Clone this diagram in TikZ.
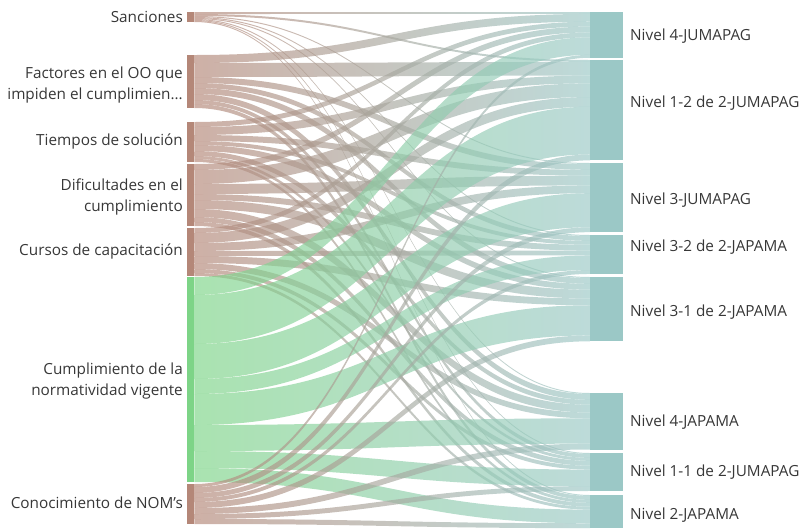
\documentclass[tikz,border=0pt]{standalone}
\usepackage{fontspec}
\setmainfont{Open Sans}
\definecolor{srcbrown}{RGB}{180,135,120}
\definecolor{srcgreen}{RGB}{125,212,135}
\definecolor{midgray}{RGB}{160,155,153}
\definecolor{midgreen}{RGB}{105,200,125}
\definecolor{tgtteal}{RGB}{155,200,198}
\definecolor{labelgray}{RGB}{55,55,55}
\tikzset{
  srcbar/.style={rectangle, fill=srcbrown, draw=none, inner sep=0pt, minimum width=7pt, anchor=north west},
  greenbar/.style={srcbar, fill=srcgreen},
  tgtbar/.style={rectangle, fill=tgtteal, draw=none, inner sep=0pt, minimum width=33pt, anchor=north west},
  srclabel/.style={anchor=east, align=right, inner sep=0pt, text=labelgray, font=\fontsize{15.3}{21}\selectfont},
  tgtlabel/.style={anchor=west, inner sep=0pt, text=labelgray, font=\fontsize{15.3}{21}\selectfont},
  ribbon/.style={draw=none, fill opacity=0.66}
}
\newcommand\snkinit[1]{\expandafter\gdef\csname snkoff#1\endcsname{0}}
\newcommand\sankeyflow[6]{%
  \pgfmathsetmacro\fya{\csname snkoff#1\endcsname}%
  \pgfmathsetmacro\fyb{\fya+#3}%
  \expandafter\xdef\csname snkoff#1\endcsname{\fyb}%
  \pgfmathsetmacro\fta{\csname snkoff#2\endcsname}%
  \pgfmathsetmacro\ftb{\fta+#3*#4}%
  \expandafter\xdef\csname snkoff#2\endcsname{\ftb}%
  \path[ribbon, left color=#5, middle color=#6, right color=tgtteal]
    ([yshift=-\fya pt]#1.north east) .. controls +(190pt,0pt) and +(-190pt,0pt) .. ([yshift=-\fta pt]#2.north west)
    -- ([yshift=-\ftb pt]#2.north west) .. controls +(-190pt,0pt) and +(190pt,0pt) .. ([yshift=-\fyb pt]#1.north east) -- cycle;
}
\begin{document}
\begin{tikzpicture}[x=1pt,y=-1pt]
\useasboundingbox (0,0) rectangle (802,528);
% source bars
\node[srcbar, minimum height=10pt] (s1) at (187,12) {};
\node[srcbar, minimum height=53pt] (s2) at (187,55) {};
\node[srcbar, minimum height=40pt] (s3) at (187,122) {};
\node[srcbar, minimum height=62pt] (s4) at (187,164) {};
\node[srcbar, minimum height=48pt] (s5) at (187,228) {};
\node[greenbar, minimum height=205pt] (s6) at (187,277) {};
\node[srcbar, minimum height=40pt] (s7) at (187,484) {};
% target bars
\node[tgtbar, minimum height=46pt] (t1) at (590,12) {};
\node[tgtbar, minimum height=100pt] (t2) at (590,60) {};
\node[tgtbar, minimum height=69pt] (t3) at (590,163) {};
\node[tgtbar, minimum height=39pt] (t4) at (590,235) {};
\node[tgtbar, minimum height=64pt] (t5) at (590,277) {};
\node[tgtbar, minimum height=57pt] (t6) at (590,393) {};
\node[tgtbar, minimum height=38pt] (t7) at (590,453) {};
\node[tgtbar, minimum height=33pt] (t8) at (590,495) {};
% labels
\node[srclabel] (l1) at (183,17) {Sanciones};
\node[srclabel] (l2) at (183,85.5) {Factores en el OO que\\impiden el cumplimien...};
\node[srclabel] (l3) at (183,141) {Tiempos de solución};
\node[srclabel] (l4) at (183,197) {Dificultades en el\\cumplimiento};
\node[srclabel] (l5) at (183,251) {Cursos de capacitación};
\node[srclabel] (l6) at (183,381) {Cumplimiento de la\\normatividad vigente};
\node[srclabel] (l7) at (183,503) {Conocimiento de NOM's};
\node[tgtlabel] (r1) at (630,36) {Nivel 4-JUMAPAG};
\node[tgtlabel] (r2) at (630,103) {Nivel 1-2 de 2-JUMAPAG};
\node[tgtlabel] (r3) at (630,200) {Nivel 3-JUMAPAG};
\node[tgtlabel] (r4) at (630,247) {Nivel 3-2 de 2-JAPAMA};
\node[tgtlabel] (r5) at (630,312) {Nivel 3-1 de 2-JAPAMA};
\node[tgtlabel] (r6) at (630,422) {Nivel 4-JAPAMA};
\node[tgtlabel] (r7) at (630,472) {Nivel 1-1 de 2-JUMAPAG};
\node[tgtlabel] (r8) at (630,515) {Nivel 2-JAPAMA};
% flows
\snkinit{s1}\snkinit{s2}\snkinit{s3}\snkinit{s4}\snkinit{s5}\snkinit{s6}\snkinit{s7}
\snkinit{t1}\snkinit{t2}\snkinit{t3}\snkinit{t4}\snkinit{t5}\snkinit{t6}\snkinit{t7}\snkinit{t8}
\foreach \t/\w in {t1/2,t2/2,t3/1,t4/1,t5/1,t6/1,t7/1,t8/1} {\sankeyflow{s1}{\t}{\w}{0.974}{srcbrown}{midgray}}
\foreach \t/\w in {t1/8,t2/14,t3/6,t4/5,t5/6,t6/6,t7/4,t8/4} {\sankeyflow{s2}{\t}{\w}{0.974}{srcbrown}{midgray}}
\foreach \t/\w in {t1/5,t2/8,t3/6,t4/4,t5/6,t6/5,t7/3,t8/3} {\sankeyflow{s3}{\t}{\w}{0.974}{srcbrown}{midgray}}
\foreach \t/\w in {t1/6,t2/14,t3/10,t4/6,t5/9,t6/8,t7/5,t8/4} {\sankeyflow{s4}{\t}{\w}{0.974}{srcbrown}{midgray}}
\foreach \t/\w in {t1/5,t2/10,t3/8,t4/5,t5/7,t6/6,t7/4,t8/3} {\sankeyflow{s5}{\t}{\w}{0.974}{srcbrown}{midgray}}
\foreach \t/\w in {t1/18,t2/49,t3/35,t4/15,t5/31,t6/26,t7/17,t8/14} {\sankeyflow{s6}{\t}{\w}{0.974}{srcgreen}{midgreen}}
\foreach \t/\w in {t1/3,t2/6,t3/5,t4/4,t5/6,t6/6,t7/5,t8/5} {\sankeyflow{s7}{\t}{\w}{0.974}{srcbrown}{midgray}}
\end{tikzpicture}
\end{document}
